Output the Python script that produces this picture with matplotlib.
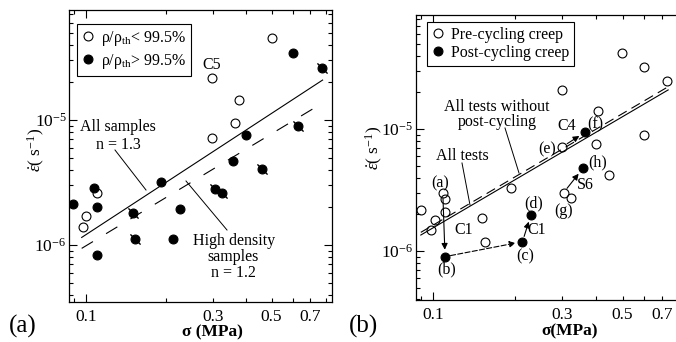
import numpy as np
import matplotlib.pyplot as plt
from matplotlib.lines import Line2D
from matplotlib.ticker import FixedLocator, FixedFormatter, NullFormatter

plt.rcParams['font.family'] = ['Liberation Serif', 'DejaVu Serif']
plt.rcParams['mathtext.fontset'] = 'custom'
plt.rcParams['mathtext.rm'] = 'Liberation Serif'
plt.rcParams['mathtext.it'] = 'Liberation Serif:italic'
plt.rcParams['mathtext.bf'] = 'Liberation Serif:bold'
plt.rcParams['lines.scale_dashes'] = False

W, H = 676, 342

# ---- panel (a): strain rate vs stress, by density
a_open_x = [0.500, 0.299, 0.378, 0.364, 0.299, 0.1097, 0.100, 0.0972]
a_open_y = [4.55e-5, 2.16e-5, 1.45e-5, 9.5e-6, 7.2e-6, 2.59e-6, 1.71e-6, 1.40e-6]
a_fill_x = [0.604, 0.776, 0.627, 0.401, 0.359, 0.461, 0.192, 0.306, 0.326,
            0.1072, 0.0891, 0.1097, 0.1507, 0.2265, 0.153, 0.212, 0.1097]
a_fill_y = [3.45e-5, 2.62e-5, 9.0e-6, 7.59e-6, 4.72e-6, 4.06e-6, 3.21e-6, 2.79e-6, 2.59e-6,
            2.87e-6, 2.12e-6, 2.0e-6, 1.81e-6, 1.93e-6, 1.12e-6, 1.12e-6, 8.3e-7]
a_fill_bar = [0, 1, 1, 0, 0, 1, 0, 1, 1, 0, 0, 0, 1, 0, 1, 0, 0]

fit_all_x = [0.0963, 0.778]      # n = 1.3
fit_all_y = [1.15e-6, 2.09e-5]
fit_hd_x = [0.0963, 0.729]       # n = 1.2
fit_hd_y = [9.4e-7, 1.26e-5]

# ---- panel (b): pre / post cycling
b_pre_x = [0.0901, 0.1017, 0.0983, 0.1086, 0.1107, 0.1107, 0.152, 0.1555, 0.1935, 0.300,
           0.3996, 0.447, 0.3027, 0.322, 0.597, 0.2985, 0.407, 0.497, 0.597, 0.728]
b_pre_y = [2.17e-6, 1.79e-6, 1.49e-6, 3.0e-6, 2.65e-6, 2.1e-6, 1.87e-6, 1.19e-6, 3.27e-6, 7.16e-6,
           7.53e-6, 4.2e-6, 3.0e-6, 2.7e-6, 8.9e-6, 2.09e-5, 1.41e-5, 4.22e-5, 3.24e-5, 2.49e-5]
b_post_x = [0.1107, 0.2136, 0.2294, 0.364, 0.357]   # (b) (c) (d) (f) (h)
b_post_y = [8.98e-7, 1.19e-6, 1.97e-6, 9.4e-6, 4.76e-6]

fit_tests_x = [0.0901, 0.736]
fit_tests_y = [1.35e-6, 2.09e-5]
fit_nopost_x = [0.0901, 0.736]
fit_nopost_y = [1.42e-6, 2.22e-5]

# arrows between states: (set, index) -> (set, index)
arrows = [(('pre', 3), ('post', 0), '-'),
          (('post', 0), ('post', 1), '--'),
          (('post', 1), ('post', 2), '-'),
          (('pre', 9), ('post', 3), '-'),
          (('pre', 12), ('post', 4), '-')]

xtick_minor = [0.09, 0.2, 0.3, 0.4, 0.5, 0.6, 0.7, 0.8]
xtick_minor_lbl = ['', '', '0.3', '', '0.5', '', '0.7', '']
ytick_minor = [4e-7, 5e-7, 6e-7, 7e-7, 8e-7, 9e-7] + [k * 1e-6 for k in range(2, 10)] \
    + [k * 1e-5 for k in range(2, 9)]

FS = 11.5
MS = 6.4


def fp(x, y):
    return (x / W, 1 - y / H)


def ftext(s, x, y, **kw):
    kw.setdefault('fontsize', FS)
    fig.text(*fp(x, y), s, ha='center', va='center', **kw)


def fline(x0, y0, x1, y1):
    fig.add_artist(Line2D([x0 / W, x1 / W], [1 - y0 / H, 1 - y1 / H],
                          transform=fig.transFigure, color='k', lw=0.7))


def style(ax, ylim):
    ax.set_xscale('log')
    ax.set_yscale('log')
    ax.set_xlim(0.0865, 0.842)
    ax.set_ylim(*ylim)
    ax.xaxis.set_major_locator(FixedLocator([0.1]))
    ax.xaxis.set_major_formatter(FixedFormatter(['0.1']))
    ax.xaxis.set_minor_locator(FixedLocator(xtick_minor))
    ax.xaxis.set_minor_formatter(FixedFormatter(xtick_minor_lbl))
    ax.yaxis.set_major_locator(FixedLocator([1e-6, 1e-5]))
    ax.yaxis.set_major_formatter(FixedFormatter(['$10^{-6}$', '$10^{-5}$']))
    ax.yaxis.set_minor_locator(FixedLocator(ytick_minor))
    ax.yaxis.set_minor_formatter(NullFormatter())
    ax.tick_params(which='both', direction='in', top=True, right=True, width=0.8,
                   labelsize=12.5, pad=2)
    ax.tick_params(which='major', length=6)
    ax.tick_params(which='minor', length=3)
    ax.tick_params(axis='x', which='both', pad=5)
    for s in ax.spines.values():
        s.set_linewidth(0.9)


fig = plt.figure(figsize=(W / 100, H / 100), dpi=100)
ax1 = fig.add_axes([69.3 / W, 1 - 302 / H, 262.4 / W, 292 / H])
ax2 = fig.add_axes([416 / W, 1 - 300 / H, 268 / W, 285 / H])
style(ax1, (3.5e-7, 7.6e-5))
style(ax2, (3.96e-7, 8.6e-5))

# ---- (a)
ax1.plot(fit_all_x, fit_all_y, color='k', lw=0.8)
ax1.plot(fit_hd_x, fit_hd_y, color='k', lw=0.8, dashes=(9.5, 11))
for x, y, b in zip(a_fill_x, a_fill_y, a_fill_bar):
    if b:
        ax1.plot(x, y, marker=(2, 2, 45), ms=10, mew=0.7, color='k', ls='none')
h1 = ax1.plot(a_open_x, a_open_y, 'o', ms=MS, mfc='none', mec='k', mew=0.8)[0]
h2 = ax1.plot(a_fill_x, a_fill_y, 'o', ms=MS, mfc='k', mec='k', mew=0.8)[0]
leg = ax1.legend([h1, h2], [r'ρ/ρ$_{\rm th}$< 99.5%', r'ρ/ρ$_{\rm th}$> 99.5%'],
                 loc='upper left', bbox_to_anchor=(0.028, 0.952), borderaxespad=0,
                 fontsize=FS, handlelength=0.8, handletextpad=0.4, borderpad=0.3,
                 labelspacing=0.25, fancybox=False, edgecolor='k', framealpha=1)
leg.get_frame().set_linewidth(0.8)

ftext('C5', 212, 65)
ftext('All samples', 118, 127)
ftext('n = 1.3', 118, 145)
ftext('High density', 234, 241)
ftext('samples', 233, 257)
ftext('n = 1.2', 233, 273)
fline(115, 150, 146, 190)
fline(186, 181, 227, 230)

# ---- (b)
ax2.plot(fit_tests_x, fit_tests_y, color='k', lw=0.8)
ax2.plot(fit_nopost_x, fit_nopost_y, color='k', lw=0.8, dashes=(7, 4))
g1 = ax2.plot(b_pre_x, b_pre_y, 'o', ms=MS, mfc='none', mec='k', mew=0.8)[0]
g2 = ax2.plot(b_post_x, b_post_y, 'o', ms=MS, mfc='k', mec='k', mew=0.8)[0]
leg2 = ax2.legend([g1, g2], ['Pre-cycling creep', 'Post-cycling creep'],
                  loc='upper left', bbox_to_anchor=(0.04, 0.976), borderaxespad=0,
                  fontsize=FS, handlelength=0.8, handletextpad=0.4, borderpad=0.3,
                  labelspacing=0.15, fancybox=False, edgecolor='k', framealpha=1)
leg2.get_frame().set_linewidth(0.8)

pts = {'pre': (b_pre_x, b_pre_y), 'post': (b_post_x, b_post_y)}
for (k0, i0), (k1, i1), ls in arrows:
    p0 = (pts[k0][0][i0], pts[k0][1][i0])
    p1 = (pts[k1][0][i1], pts[k1][1][i1])
    ax2.annotate('', xy=p1, xytext=p0,
                 arrowprops=dict(arrowstyle='-|>', color='k', lw=0.8, ls=ls,
                                 mutation_scale=9, shrinkA=4, shrinkB=5))

for s, x, y in [('(a)', 440, 183), ('(b)', 447, 269), ('(c)', 525, 256), ('(d)', 534, 203),
                ('(e)', 547, 149), ('(f)', 595, 124), ('(g)', 564, 211), ('(h)', 598, 162),
                ('C1', 464, 230), ('C1', 537, 230), ('C4', 567, 126), ('S6', 585, 185)]:
    ftext(s, x, y)
ftext('All tests without', 497, 107)
ftext('post-cycling', 497, 122)
ftext('All tests', 462, 156)
fline(505, 128, 519, 173)
fline(462, 163, 470, 205)

# axis labels
ylab = r'$\dot{\varepsilon}$( s$^{-1}$)'
ftext(ylab, 36, 150, rotation=90, fontsize=12.5)
ftext(ylab, 374, 148, rotation=90, fontsize=12.5)
ftext('σ (MPa)', 212, 332, fontsize=12.5, fontweight='bold')
ftext('σ(MPa)', 570, 331, fontsize=12.5, fontweight='bold')
ftext('(a)', 23, 326, fontsize=18)
ftext('(b)', 364, 326, fontsize=18)

fig.savefig('out.png', dpi=100)
